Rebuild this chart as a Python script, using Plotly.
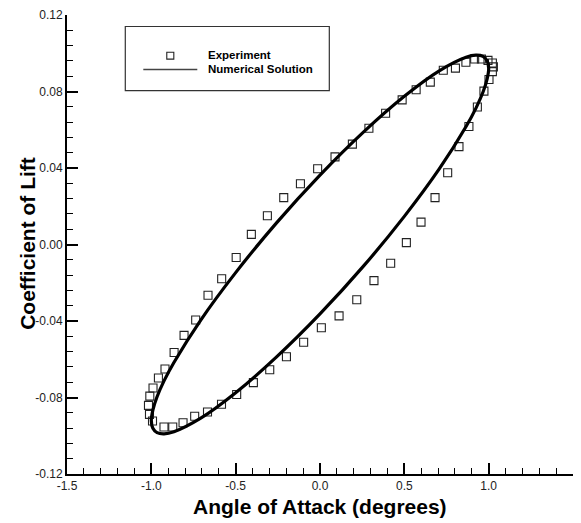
import plotly.graph_objects as go

# Measured lift coefficient over one pitching cycle
aoa_exp = [-1.011, -1.017, -1.009, -0.990, -0.958, -0.919, -0.865, -0.806, -0.737, -0.664,
           -0.583, -0.497, -0.407, -0.312, -0.215, -0.116, -0.014, 0.089, 0.192, 0.290,
           0.389, 0.487, 0.570, 0.654, 0.731, 0.803, 0.865, 0.917, 0.957, 0.996,
           1.022, 1.028, 1.022, 1.002, 0.972, 0.933, 0.883, 0.824, 0.757, 0.682,
           0.599, 0.512, 0.419, 0.320, 0.218, 0.113, 0.008, -0.097, -0.199, -0.298,
           -0.395, -0.494, -0.584, -0.667, -0.743, -0.812, -0.873, -0.925, -0.993]
cl_exp = [-0.0888, -0.0841, -0.0793, -0.0750, -0.0698, -0.0651, -0.0565, -0.0475, -0.0395, -0.0265,
          -0.0179, -0.0068, 0.0053, 0.0150, 0.0245, 0.0318, 0.0396, 0.0458, 0.0525, 0.0608,
          0.0686, 0.0756, 0.0809, 0.0849, 0.0911, 0.0922, 0.0953, 0.0970, 0.0970, 0.0963,
          0.0949, 0.0929, 0.0904, 0.0863, 0.0802, 0.0719, 0.0617, 0.0512, 0.0375, 0.0245,
          0.0117, 0.0010, -0.0098, -0.0189, -0.0289, -0.0373, -0.0435, -0.0511, -0.0587, -0.0655,
          -0.0722, -0.0784, -0.0835, -0.0876, -0.0898, -0.0932, -0.0954, -0.0954, -0.0923]

# Computed lift coefficient (closed hysteresis loop)
aoa_num = [1.000, 0.991, 0.966, 0.924, 0.866, 0.707, 0.500, 0.259, 0.000, -0.259,
           -0.500, -0.707, -0.866, -0.924, -0.966, -0.991, -1.000, -0.991, -0.966, -0.924,
           -0.866, -0.707, -0.500, -0.259, 0.000, 0.259, 0.500, 0.707, 0.866, 0.924,
           0.966, 0.991, 1.000]
cl_num = [0.0921, 0.0961, 0.0984, 0.0990, 0.0979, 0.0908, 0.0775, 0.0589, 0.0363, 0.0112,
          -0.0147, -0.0395, -0.0617, -0.0712, -0.0796, -0.0866, -0.0921, -0.0961, -0.0984, -0.0990,
          -0.0979, -0.0908, -0.0775, -0.0589, -0.0363, -0.0112, 0.0147, 0.0395, 0.0617, 0.0712,
          0.0796, 0.0866, 0.0921]

x_ticks = [-1.5, -1.0, -0.5, 0.0, 0.5, 1.0, 1.5]
x_labels = ["-1.5", "-1.0", "-0.5", "0.0", "0.5", "1.0", "1.5"]
y_ticks = [-0.12, -0.08, -0.04, 0.00, 0.04, 0.08, 0.12]
y_labels = ["-0.12", "-0.08", "-0.04", "0.00", "0.04", "0.08", "0.12"]

FONT = "Liberation Sans, Arial, sans-serif"

fig = go.Figure()
fig.add_trace(go.Scatter(
    x=aoa_exp, y=cl_exp, mode="markers", name="Experiment",
    marker=dict(symbol="square-open", size=8, color="#222222", line=dict(width=1.1)),
    showlegend=False,
))
fig.add_trace(go.Scatter(
    x=aoa_num, y=cl_num, mode="lines", name="Numerical Solution",
    line=dict(color="black", width=3.2, shape="spline", smoothing=1.0),
    showlegend=False,
))

axis_common = dict(
    showgrid=False, zeroline=False, showline=True, linecolor="black", linewidth=2,
    ticks="inside", tickcolor="black", tickwidth=2, ticklen=11,
    tickfont=dict(family=FONT, size=12, color="#222222"),
    mirror=False,
)
fig.update_layout(
    width=581, height=523,
    margin=dict(l=67, r=8, t=12, b=49),
    paper_bgcolor="white", plot_bgcolor="white",
    xaxis=dict(
        range=[-1.5, 1.5], tickvals=x_ticks, ticktext=x_labels,
        minor=dict(dtick=0.1, ticks="inside", ticklen=6, tickwidth=1, tickcolor="black"),
        **axis_common,
    ),
    yaxis=dict(
        range=[-0.12, 0.12], tickvals=y_ticks, ticktext=y_labels,
        minor=dict(dtick=0.008, ticks="inside", ticklen=6, tickwidth=1, tickcolor="black"),
        **axis_common,
    ),
)

# Axis titles
fig.add_annotation(xref="paper", yref="paper", x=0.5, y=-0.0707, xanchor="center", yanchor="middle",
                   text="<b>Angle of Attack (degrees)</b>", showarrow=False,
                   font=dict(family=FONT, size=21, color="black"))
fig.add_annotation(xref="paper", yref="paper", x=-0.0785, y=0.502, xanchor="center", yanchor="middle",
                   text="<b>Coefficient of Lift</b>", showarrow=False, textangle=-90,
                   font=dict(family=FONT, size=21, color="black"))

# Legend box drawn in paper coordinates
fig.add_shape(type="rect", xref="paper", yref="paper", x0=0.1152, x1=0.5184, y0=0.8351, y1=0.9749,
              line=dict(color="#333333", width=1.2), fillcolor="white", layer="above")
fig.add_shape(type="rect", xref="paper", yref="paper", x0=0.1972, x1=0.2111, y0=0.9038, y1=0.9189,
              line=dict(color="#222222", width=1.1), layer="above")
fig.add_shape(type="line", xref="paper", yref="paper", x0=0.1508, x1=0.2575, y0=0.8811, y1=0.8811,
              line=dict(color="#444444", width=1.5), layer="above")
for txt, yp in [("Experiment", 0.9135), ("Numerical Solution", 0.8833)]:
    fig.add_annotation(xref="paper", yref="paper", x=0.2753, y=yp, xanchor="left", yanchor="middle",
                       text=f"<b>{txt}</b>", showarrow=False,
                       font=dict(family=FONT, size=11.5, color="black"))

fig.write_html("out.html")
